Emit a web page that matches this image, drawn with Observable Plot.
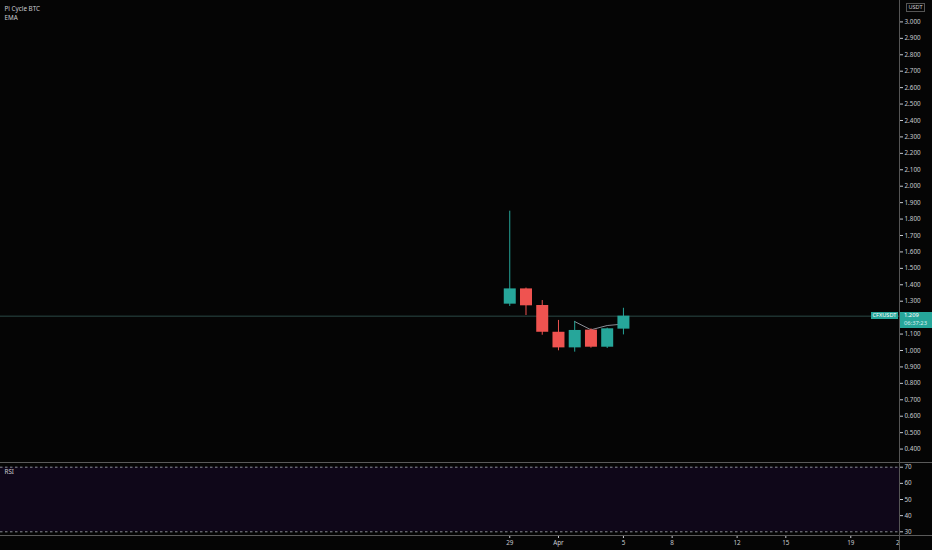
<!DOCTYPE html>
<html>
<head>
<meta charset="utf-8">
<script src="https://cdn.jsdelivr.net/npm/d3@7"></script>
<script src="https://cdn.jsdelivr.net/npm/@observablehq/plot@0.6"></script>
<style>
  html, body { margin: 0; padding: 0; background: #050505; }
  #wrap { position: relative; width: 932px; height: 550px; overflow: hidden; background: #050505;
          font-family: "Noto Sans", "Open Sans", sans-serif; }
  #wrap svg { display: block; }
  #rsi { border-top: 1px solid #5a5a5a; border-bottom: 1px solid #5a5a5a; }
  .vline { position: absolute; left: 899px; top: 0; width: 1px; height: 550px; background: #555; }
  .box { position: absolute; background: #26a69a; color: #fff; line-height: 1; }
  .unit { position: absolute; left: 906px; top: 3px; width: 17px; height: 7px; border: 1px solid #555;
          color: #cfd1d6; font-size: 5.5px; line-height: 7px; text-align: center; }
</style>
</head>
<body>
<div id="wrap"></div>
<script>
// ---- data ----
const dates = ["2021-03-29", "2021-03-30", "2021-03-31", "2021-04-01", "2021-04-02", "2021-04-03", "2021-04-04", "2021-04-05"];
const open  = [1.282, 1.375, 1.274, 1.111, 1.016, 1.124, 1.020, 1.130];
const high  = [1.848, 1.380, 1.304, 1.183, 1.177, 1.132, 1.136, 1.257];
const low   = [1.268, 1.213, 1.093, 0.998, 0.990, 1.014, 1.012, 1.095];
const close = [1.375, 1.272, 1.111, 1.016, 1.122, 1.020, 1.132, 1.209];

const emaDates  = ["2021-04-02", "2021-04-03", "2021-04-04", "2021-04-05"];
const emaValues = [1.176, 1.126, 1.152, 1.161];

// 1.200 is hidden behind the last-price label in the reference
const priceTicks = [0.4, 0.5, 0.6, 0.7, 0.8, 0.9, 1.0, 1.1, 1.3, 1.4, 1.5, 1.6, 1.7, 1.8, 1.9,
                    2.0, 2.1, 2.2, 2.3, 2.4, 2.5, 2.6, 2.7, 2.8, 2.9, 3.0];
const rsiTicks = [30, 40, 50, 60, 70];
const rsiBands = [30, 70];

const xTickDates  = ["2021-03-29", "2021-04-01", "2021-04-05", "2021-04-08", "2021-04-12", "2021-04-15", "2021-04-19", "2021-04-22"];
const xTickLabels = ["29", "Apr", "5", "8", "12", "15", "19", "22"];

const indicatorLabels = ["Pi Cycle BTC", "EMA"];
const rsiLabel = "RSI";
const ticker = "CFXUSDT";
const currency = "USDT";
const countdown = "06:37:23";
const lastPrice = 1.209;

const xDomain = [new Date("2021-02-25T15:22:00Z"), new Date("2021-04-22T00:00:00Z")];

// ---- tables ----
const candles = dates.map((d, i) => ({
  date: new Date(d + "T00:00:00Z"), open: open[i], high: high[i], low: low[i], close: close[i],
  dir: close[i] >= open[i] ? "up" : "down"
}));
const ema = emaDates.map((d, i) => ({ date: new Date(d + "T00:00:00Z"), value: emaValues[i] }));
const tickMap = new Map(xTickDates.map((d, i) => [+new Date(d + "T00:00:00Z"), xTickLabels[i]]));

const UP = "#26a69a", DOWN = "#ef5350";
const font = "'Noto Sans', 'Open Sans', sans-serif";
const textColor = "#c9cbd1";

const wrap = document.getElementById("wrap");

// ---- main price pane ----
const main = Plot.plot({
  width: 932, height: 462,
  marginLeft: 0, marginRight: 33, marginTop: 0, marginBottom: 0,
  style: { background: "transparent", color: textColor, fontSize: "6.3px", fontFamily: font, overflow: "visible" },
  x: { type: "utc", domain: xDomain, axis: null },
  y: { domain: [0.3183, 3.1303], axis: "right", ticks: priceTicks, tickFormat: d3.format(".3f"),
       tickSize: 3, tickPadding: 2, label: null },
  color: { domain: ["up", "down"], range: [UP, DOWN] },
  marks: [
    Plot.ruleY([lastPrice], { stroke: "#2b4a46", strokeWidth: 1 }),
    Plot.line(ema, { x: "date", y: "value", stroke: "#8a8d96", strokeWidth: 1 }),
    Plot.ruleX(candles, { x: "date", y1: "low", y2: "high", stroke: "dir", strokeWidth: 1 }),
    Plot.ruleX(candles, { x: "date", y1: "open", y2: "close", stroke: "dir", strokeWidth: 12 }),
    Plot.text([indicatorLabels[0]], { frameAnchor: "top-left", dx: 4, dy: 8.5, textAnchor: "start", lineAnchor: "middle", fill: textColor }),
    Plot.text([indicatorLabels[1]], { frameAnchor: "top-left", dx: 4, dy: 17, textAnchor: "start", lineAnchor: "middle", fill: textColor })
  ]
});
wrap.appendChild(main);

// ---- RSI pane ----
const rsiDiv = document.createElement("div");
rsiDiv.id = "rsi";
const rsi = Plot.plot({
  width: 932, height: 72,
  marginLeft: 0, marginRight: 33, marginTop: 0, marginBottom: 0,
  style: { background: "transparent", color: textColor, fontSize: "6.3px", fontFamily: font, overflow: "visible" },
  y: { domain: [27.71, 72.29], axis: "right", ticks: rsiTicks, tickFormat: d3.format("d"),
       tickSize: 3, tickPadding: 2, label: null },
  marks: [
    Plot.rect([rsiBands], { y1: d => d[0], y2: d => d[1], fill: "#0f0719" }),
    Plot.ruleY(rsiBands, { stroke: "#8a8d96", strokeDasharray: "2.5,2.5", strokeWidth: 1 }),
    Plot.text([rsiLabel], { frameAnchor: "top-left", dx: 4, dy: 8.7, textAnchor: "start", lineAnchor: "middle", fill: textColor })
  ]
});
rsiDiv.appendChild(rsi);
wrap.appendChild(rsiDiv);

// ---- time axis ----
const xAxis = Plot.plot({
  width: 900, height: 14,
  marginLeft: 0, marginRight: 1, marginTop: 0, marginBottom: 14,
  style: { background: "transparent", color: textColor, fontSize: "6.3px", fontFamily: font, overflow: "hidden" },
  x: { type: "utc", domain: xDomain, ticks: xTickDates.map(d => new Date(d + "T00:00:00Z")),
       tickFormat: d => tickMap.get(+d), tickSize: 2, tickPadding: 2, label: null },
  marks: [
    Plot.ruleX(xTickDates.map(d => new Date(d + "T00:00:00Z")), { strokeOpacity: 0 })
  ]
});
wrap.appendChild(xAxis);

// ---- overlays: axis line, unit box, last price labels ----
const vline = document.createElement("div");
vline.className = "vline";
wrap.appendChild(vline);

const unit = document.createElement("div");
unit.className = "unit";
unit.textContent = currency;
wrap.appendChild(unit);

const yp = main.scale("y").apply(lastPrice);

const tBox = document.createElement("div");
tBox.className = "box";
Object.assign(tBox.style, { left: "871px", top: (yp - 3.7) + "px", width: "27px", height: "7.4px",
  fontSize: "5.6px", lineHeight: "7.4px", textAlign: "center" });
tBox.textContent = ticker;
wrap.appendChild(tBox);

const pBox = document.createElement("div");
pBox.className = "box";
Object.assign(pBox.style, { left: "900px", top: (yp - 3.8) + "px", width: "32px", height: "16px",
  fontSize: "5.8px", paddingLeft: "4px", boxSizing: "border-box" });
pBox.innerHTML = `<div style="height:7.8px;line-height:7.8px">${d3.format(".3f")(lastPrice)}</div>` +
  `<div style="height:7.8px;line-height:7.8px;color:#d8f0ee">${countdown}</div>`;
wrap.appendChild(pBox);
</script>
</body>
</html>
